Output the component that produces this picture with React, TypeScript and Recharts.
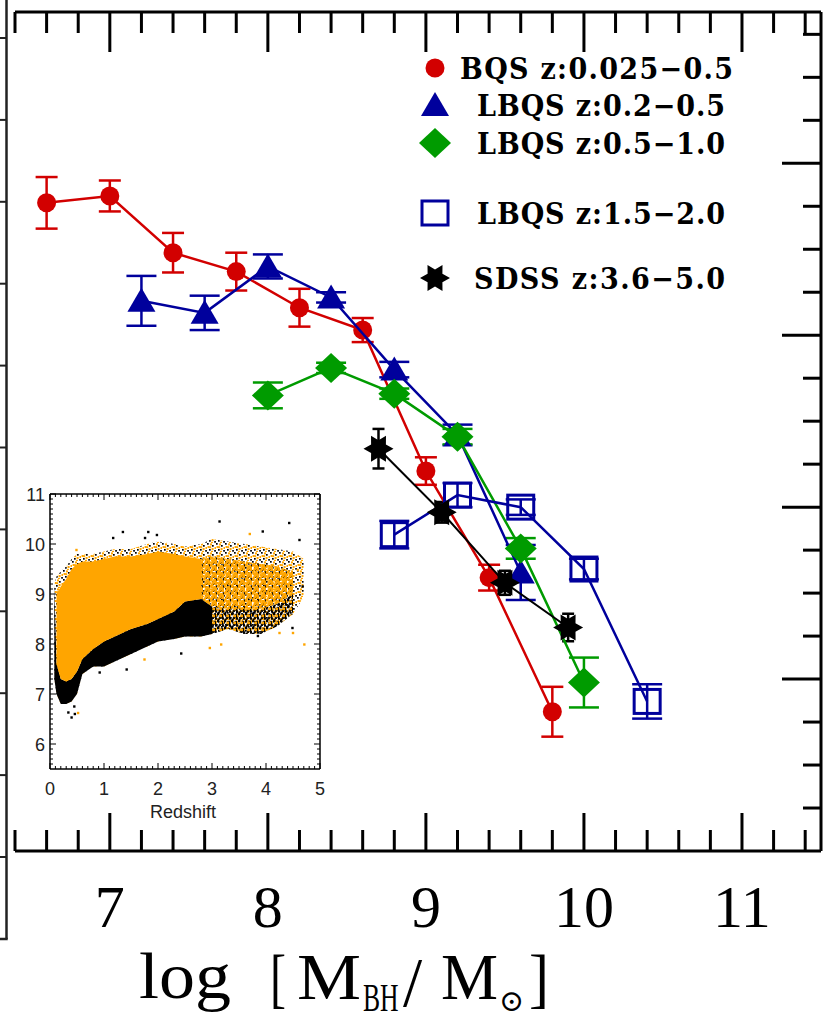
import React from 'react'
import { ComposedChart, Scatter, ErrorBar, XAxis, YAxis, Area, Legend } from 'recharts'

// ── Frame geometry (page px) ──────────────────────────────────────────────────
const W = 823
const H = 1020
const PLOT_L = 15
const PLOT_R = 821
const PLOT_T = 12
const PLOT_B = 851

const RED = '#D20000'
const BLUE = '#00009C'
const GREEN = '#009B00'
const INK = '#000000'
const ORANGE = '#FFA500'

// ── Main panel: log M_BH bin, log value, 1-sigma ─────────────────────────────
const BQS_X = [6.6, 7.0, 7.4, 7.8, 8.2, 8.6, 9.0, 9.4, 9.8]
const BQS_Y = [-6.23, -6.19, -6.52, -6.63, -6.84, -6.97, -7.79, -8.41, -9.19]
const BQS_ERR = [0.15, 0.09, 0.115, 0.11, 0.11, 0.07, 0.08, 0.075, 0.145]

const LBQS1_X = [7.2, 7.6, 8.0, 8.4, 8.8, 9.2, 9.6]
const LBQS1_Y = [-6.8, -6.87, -6.6, -6.78, -7.2, -7.58, -8.38]
const LBQS1_ERR = [0.145, 0.1, 0.07, 0.03, 0.045, 0.06, 0.16]

const LBQS2_X = [8.0, 8.4, 8.8, 9.2, 9.6, 10.0]
const LBQS2_Y = [-7.35, -7.19, -7.34, -7.59, -8.24, -9.02]
const LBQS2_ERR = [0.075, 0.03, 0.03, 0.045, 0.06, 0.145]

const LBQS3_X = [8.8, 9.2, 9.6, 10.0, 10.4]
const LBQS3_Y = [-8.16, -7.93, -8.0, -8.36, -9.13]
const LBQS3_ERR = [0.08, 0.07, 0.045, 0.06, 0.1]

const SDSS_X = [8.7, 9.1, 9.5, 9.9]
const SDSS_Y = [-7.66, -8.03, -8.44, -8.7]
const SDSS_ERR = [0.115, 0.06, 0.07, 0.08]

const LEGEND_LABELS = [
  'BQS z:0.025\u22120.5',
  'LBQS z:0.2\u22120.5',
  'LBQS z:0.5\u22121.0',
  'LBQS z:1.5\u22122.0',
  'SDSS z:3.6\u22125.0',
]

const X_LABELS = [7, 8, 9, 10, 11]
const X_TICKS = Array.from({ length: 26 }, (_, i) => Math.round((6.4 + i * 0.2) * 10) / 10)
const Y_TICKS = Array.from({ length: 19 }, (_, i) => -9.75 + i * 0.25)

// ── Inset: redshift vs log M_BH cloud, read as envelopes ─────────────────────
const INSET_Z = [0.08, 0.12, 0.2, 0.3, 0.4, 0.5, 0.6, 0.8, 1.0, 1.2, 1.5, 1.8, 2.0, 2.3, 2.5, 2.8, 3.0, 3.3, 3.6, 3.9, 4.2, 4.5, 4.7]
// whole cloud (outer edge)
const ALL_LO = [7.3, 7.0, 6.8, 6.8, 6.85, 7.0, 7.4, 7.55, 7.55, 7.65, 7.8, 7.95, 8.05, 8.1, 8.15, 8.15, 8.2, 8.3, 8.2, 8.2, 8.35, 8.6, 8.95]
const ALL_HI = [9.2, 9.35, 9.45, 9.55, 9.7, 9.8, 9.8, 9.8, 9.85, 9.9, 9.9, 10.0, 10.05, 10.0, 9.95, 10.0, 10.1, 10.05, 10.0, 9.95, 9.9, 9.85, 9.7]
// dense orange core
const CORE_LO = [null, 7.6, 7.3, 7.25, 7.3, 7.45, 7.7, 7.9, 8.05, 8.15, 8.3, 8.4, 8.5, 8.65, 8.85, 8.9, 8.75, 8.7, 8.7, 8.7, 8.8, 9.0, null]
const CORE_HI = [null, 9.0, 9.15, 9.3, 9.5, 9.6, 9.65, 9.65, 9.7, 9.75, 9.75, 9.8, 9.85, 9.8, 9.75, 9.7, 9.75, 9.7, 9.65, 9.6, 9.55, 9.45, null]
// redshifts past which the core / the black underside thin into loose dots
const CORE_SPARSE_Z = 2.8
const UNDER_SPARSE_Z = 3.0

const STRAY_BLACK_Z = [1.35, 1.17, 1.76, 1.82, 1.98, 3.14, 4.43, 0.34, 0.4, 0.46, 2.43, 1.42, 0.92, 3.85, 4.62, 3.94, 4.68, 4.49, 0.3, 0.45]
const STRAY_BLACK_M = [10.24, 10.12, 10.12, 10.24, 10.18, 10.45, 10.42, 6.63, 6.53, 6.6, 7.81, 7.49, 7.43, 8.16, 10.08, 10.25, 9.15, 8.32, 6.9, 6.75]
const STRAY_ORANGE_Z = [4.71, 2.96, 3.17, 1.75, 0.49, 4.5, 4.25, 4.37, 4.59, 0.52, 3.7]
const STRAY_ORANGE_M = [7.99, 7.92, 7.99, 7.69, 9.88, 8.22, 8.22, 9.29, 9.48, 6.62, 10.2]

const IN_X_TICKS = Array.from({ length: 51 }, (_, i) => i / 10)
const IN_Y_TICKS = Array.from({ length: 55 }, (_, i) => (56 + i) / 10)

const toRows = (xs: number[], ys: number[], es: number[]) => xs.map((x, i) => ({ x, y: ys[i], e: es[i] }))

const bqs = toRows(BQS_X, BQS_Y, BQS_ERR)
const lbqs1 = toRows(LBQS1_X, LBQS1_Y, LBQS1_ERR)
const lbqs2 = toRows(LBQS2_X, LBQS2_Y, LBQS2_ERR)
const lbqs3 = toRows(LBQS3_X, LBQS3_Y, LBQS3_ERR)
const sdss = toRows(SDSS_X, SDSS_Y, SDSS_ERR)

const insetRows = INSET_Z.map((z, i) => {
  const lo = ALL_LO[i]
  const hi = ALL_HI[i]
  const cLo = CORE_LO[i]
  const cHi = CORE_HI[i]
  return {
    z,
    all: [lo, hi],
    underDense: z <= UNDER_SPARSE_Z ? [lo, cLo ?? hi] : null,
    underSparse: z >= UNDER_SPARSE_Z && cLo != null ? [lo, cLo] : null,
    coreDense: z <= CORE_SPARSE_Z && cLo != null ? [cLo, cHi] : null,
    coreSparse: z >= CORE_SPARSE_Z && cLo != null ? [cLo, cHi] : null,
  }
})
const strayBlack = STRAY_BLACK_Z.map((z, i) => ({ z, m: STRAY_BLACK_M[i] }))
const strayOrange = STRAY_ORANGE_Z.map((z, i) => ({ z, m: STRAY_ORANGE_M[i] }))

// ── Markers ───────────────────────────────────────────────────────────────────
const circleMark = (cx: number, cy: number, c: string) => <circle cx={cx} cy={cy} r={9.5} fill={c} />
const triangleMark = (cx: number, cy: number, c: string) => (
  <path d={`M${cx},${cy - 13}L${cx + 14},${cy + 11}L${cx - 14},${cy + 11}Z`} fill={c} />
)
const diamondMark = (cx: number, cy: number, c: string) => (
  <path d={`M${cx},${cy - 15}L${cx + 16},${cy}L${cx},${cy + 15}L${cx - 16},${cy}Z`} fill={c} />
)
const squareMark = (cx: number, cy: number, c: string) => (
  <rect x={cx - 13} y={cy - 12} width={26} height={24} fill="none" stroke={c} strokeWidth={3} />
)
const starMark = (cx: number, cy: number, c: string) => {
  const pts = Array.from({ length: 12 }, (_, k) => {
    const a = (k * Math.PI) / 6
    const r = k % 2 === 0 ? 15 : 8.5
    return `${(cx + r * Math.cos(a)).toFixed(1)},${(cy + r * Math.sin(a)).toFixed(1)}`
  })
  return <polygon points={pts.join(' ')} fill={c} />
}
const MARKS = [
  (x: number, y: number) => circleMark(x, y, RED),
  (x: number, y: number) => triangleMark(x, y, BLUE),
  (x: number, y: number) => diamondMark(x, y, GREEN),
  (x: number, y: number) => squareMark(x, y, BLUE),
  (x: number, y: number) => starMark(x, y, INK),
]

// ── Main axes ticks ───────────────────────────────────────────────────────────
const isWhole = (v: number) => Math.abs(v - Math.round(v)) < 1e-6

function BottomTick({ x, payload }: any) {
  const major = isWhole(payload.value)
  return (
    <g>
      <line x1={x} x2={x} y1={PLOT_B} y2={PLOT_B - (major ? 38 : 21)} stroke={INK} strokeWidth={3} />
      {major && X_LABELS.includes(Math.round(payload.value)) && (
        <text x={x} y={927} textAnchor="middle" fontFamily="'Liberation Serif', serif" fontSize={60} fill={INK}>
          {Math.round(payload.value)}
        </text>
      )}
    </g>
  )
}

function TopTick({ x, payload }: any) {
  const major = isWhole(payload.value)
  return <line x1={x} x2={x} y1={PLOT_T} y2={PLOT_T + (major ? 40 : 21)} stroke={INK} strokeWidth={3} />
}

function RightTick({ y, payload }: any) {
  const major = isWhole(payload.value)
  return <line x1={PLOT_R} x2={PLOT_R - (major ? 39 : 18)} y1={y} y2={y} stroke={INK} strokeWidth={3} />
}

// log [M_BH / M_sun], pieces placed to match the printed title
function MassTitle() {
  const serif = "'Liberation Serif', 'DejaVu Serif', serif"
  return (
    <g fill={INK} fontFamily={serif}>
      <text x={139} y={998} fontSize={66} textLength={92} lengthAdjust="spacingAndGlyphs">log</text>
      <text x={270} y={1000} fontSize={66} textLength={16} lengthAdjust="spacingAndGlyphs">[</text>
      <text x={297} y={999} fontSize={66} textLength={64} lengthAdjust="spacingAndGlyphs">M</text>
      <text transform="translate(363 1011) scale(0.64 1)" fontSize={40}>BH</text>
      <text transform="translate(403 1006) scale(1.15 1.15)" fontSize={60}>/</text>
      <text x={441} y={999} fontSize={66} textLength={57} lengthAdjust="spacingAndGlyphs">M</text>
      <text x={499} y={1011} fontSize={30} fontFamily="'DejaVu Serif', serif">{'\u2299'}</text>
      <text x={529} y={1000} fontSize={66} textLength={20} lengthAdjust="spacingAndGlyphs">]</text>
    </g>
  )
}

// legend rows, page coords
const LEG_MARK_X = 435
const LEG_ROW_Y = [68, 105, 143, 213, 278]
const LEG_TEXT_X = [460, 477, 477, 477, 474]
const LEG_TEXT_W = [273, 248, 248, 248, 251]
const LEG_LEFT = 405
const LEG_TOP = 40

function LegendGraphic() {
  return (
    <svg width={360} height={270} style={{ display: 'block', overflow: 'visible' }}>
      {LEGEND_LABELS.map((label, i) => (
        <g key={label}>
          {MARKS[i](LEG_MARK_X - LEG_LEFT, LEG_ROW_Y[i] - LEG_TOP)}
          <text
            x={LEG_TEXT_X[i] - LEG_LEFT}
            y={LEG_ROW_Y[i] - LEG_TOP + 11}
            fontFamily="'DejaVu Serif Condensed', 'DejaVu Serif', serif"
            fontWeight="bold"
            fontSize={30}
            textLength={LEG_TEXT_W[i]}
            lengthAdjust="spacing"
            fill={INK}
          >
            {label}
          </text>
        </g>
      ))}
    </svg>
  )
}

// ── Inset geometry (inset px; box placed at page 0,480) ───────────────────────
const IN_TOP = 480
const IN_W = 340
const IN_H = 345
const IN_L = 50
const IN_R = 320
const IN_T = 14
const IN_B = 289
const SANS = "'Liberation Sans', Arial, sans-serif"

function InBottomTick({ x, payload }: any) {
  const major = isWhole(payload.value)
  return (
    <g>
      <line x1={x} x2={x} y1={IN_B} y2={IN_B - (major ? 6 : 3)} stroke={INK} strokeWidth={1} />
      {major && (
        <text x={x} y={IN_B + 26} textAnchor="middle" fontFamily={SANS} fontSize={18} fill="#222">
          {Math.round(payload.value)}
        </text>
      )}
    </g>
  )
}
function InTopTick({ x, payload }: any) {
  const major = isWhole(payload.value)
  return <line x1={x} x2={x} y1={IN_T} y2={IN_T + (major ? 6 : 3)} stroke={INK} strokeWidth={1} />
}
function InLeftTick({ y, payload }: any) {
  const major = isWhole(payload.value)
  return (
    <g>
      <line x1={IN_L} x2={IN_L + (major ? 6 : 3)} y1={y} y2={y} stroke={INK} strokeWidth={1} />
      {major && (
        <text x={IN_L - 5} y={y + 6.5} textAnchor="end" fontFamily={SANS} fontSize={18} fill="#222">
          {Math.round(payload.value)}
        </text>
      )}
    </g>
  )
}
function InRightTick({ y, payload }: any) {
  const major = isWhole(payload.value)
  return <line x1={IN_R} x2={IN_R - (major ? 6 : 3)} y1={y} y2={y} stroke={INK} strokeWidth={1} />
}
function RedshiftTitle() {
  return (
    <text x={(IN_L + IN_R) / 2 - 2} y={IN_B + 49} textAnchor="middle" fontFamily={SANS} fontSize={18} fill="#222">
      Redshift
    </text>
  )
}

const dot = (c: string) => (p: any) => <rect x={p.cx - 1.2} y={p.cy - 1.2} width={2.4} height={2.4} fill={c} />

// speckle tiles that stand in for the loose dots of the cloud
const sq = (x: number, y: number, s: number, c: string, k: string) => <rect key={k} x={x} y={y} width={s} height={s} fill={c} />
function Speckle({ id, size, black, orange, dot: d }: { id: string; size: number; black: number[][]; orange: number[][]; dot: number }) {
  return (
    <pattern id={id} width={size} height={size} patternUnits="userSpaceOnUse">
      {black.map(([x, y], i) => sq(x, y, d, '#000', `b${i}`))}
      {orange.map(([x, y], i) => sq(x, y, d + 0.3, ORANGE, `o${i}`))}
    </pattern>
  )
}

function Inset() {
  const band = (key: string, fill: string) => (
    <Area dataKey={key} type="linear" fill={fill} fillOpacity={1} stroke="none" isAnimationActive={false} />
  )
  return (
    <ComposedChart
      width={IN_W}
      height={IN_H}
      data={insetRows}
      margin={{ top: IN_T - 1, right: IN_W - IN_R - 1, bottom: 0, left: IN_L - 30 }}
      style={{ position: 'absolute', left: 0, top: IN_TOP }}
    >
      <defs>
        <Speckle
          id="speckMix"
          size={9}
          dot={1.7}
          black={[[0, 0], [5, 2], [2, 6], [7.2, 7]]}
          orange={[[3, 0.4], [7.5, 4], [0.6, 3], [4.6, 5], [4, 7.8], [2.2, 3.2]]}
        />
        <Speckle
          id="speckBlack"
          size={7}
          dot={2.3}
          black={[[0, 0], [3.6, 0.8], [1.8, 3.6], [5, 4.4], [0.4, 5.6], [4.2, 2.6]]}
          orange={[[2.4, 1.6], [6, 0.8]]}
        />
        <Speckle
          id="speckOrange"
          size={7}
          dot={2.4}
          black={[[5.6, 0.3], [6.1, 6.1], [2.5, 4.7]]}
          orange={[[0, 0], [3.4, 1.1], [1.6, 3.4], [5, 4.2], [0.6, 5.5], [4.4, 2.7], [2.4, 1.5], [3.8, 5.6]]}
        />
      </defs>
      <XAxis
        type="number"
        dataKey="z"
        domain={[0, 5]}
        ticks={IN_X_TICKS}
        interval={0}
        allowDataOverflow
        height={IN_H - IN_B}
        tickSize={0}
        tickMargin={0}
        tickLine={false}
        axisLine={{ stroke: INK, strokeWidth: 1.5 }}
        tick={<InBottomTick />}
        label={<RedshiftTitle />}
      />
      <XAxis
        xAxisId="top"
        orientation="top"
        type="number"
        dataKey="z"
        domain={[0, 5]}
        ticks={IN_X_TICKS}
        interval={0}
        allowDataOverflow
        height={1}
        tickSize={0}
        tickMargin={0}
        tickLine={false}
        axisLine={{ stroke: INK, strokeWidth: 1.5 }}
        tick={<InTopTick />}
      />
      <YAxis
        type="number"
        domain={[5.5, 11]}
        ticks={IN_Y_TICKS}
        interval={0}
        allowDataOverflow
        width={30}
        tickSize={0}
        tickMargin={0}
        tickLine={false}
        axisLine={{ stroke: INK, strokeWidth: 1.5 }}
        tick={<InLeftTick />}
      />
      <YAxis
        yAxisId="right"
        orientation="right"
        type="number"
        domain={[5.5, 11]}
        ticks={IN_Y_TICKS}
        interval={0}
        allowDataOverflow
        width={1}
        tickSize={0}
        tickMargin={0}
        tickLine={false}
        axisLine={{ stroke: INK, strokeWidth: 1.5 }}
        tick={<InRightTick />}
      />
      {band('all', 'url(#speckMix)')}
      {band('underDense', '#000')}
      {band('underSparse', 'url(#speckBlack)')}
      {band('coreDense', ORANGE)}
      {band('coreSparse', 'url(#speckOrange)')}
      <Scatter data={strayBlack} dataKey="m" shape={dot('#000')} isAnimationActive={false} />
      <Scatter data={strayOrange} dataKey="m" shape={dot(ORANGE)} isAnimationActive={false} />
    </ComposedChart>
  )
}

// neighbouring panel edge visible at the far left of the figure
const EDGE_TICKS = Array.from({ length: 11 }, (_, i) => 38 + i * 81.9)
function NeighbourEdge() {
  return (
    <svg width={12} height={950} style={{ position: 'absolute', left: 0, top: 0 }}>
      <line x1={6.5} x2={6.5} y1={0} y2={939} stroke="#222" strokeWidth={2.5} />
      <line x1={0} x2={7.7} y1={939} y2={939} stroke="#222" strokeWidth={2.5} />
      {EDGE_TICKS.map((y) => (
        <line key={y} x1={0} x2={6.5} y1={y} y2={y} stroke="#222" strokeWidth={2} />
      ))}
    </svg>
  )
}

export default function App() {
  const series = [
    { data: bqs, color: RED, mark: MARKS[0], cap: 11, lw: 2.5 },
    { data: lbqs1, color: BLUE, mark: MARKS[1], cap: 15, lw: 2.5 },
    { data: lbqs2, color: GREEN, mark: MARKS[2], cap: 15, lw: 2.5 },
    { data: lbqs3, color: BLUE, mark: MARKS[3], cap: 15, lw: 2.5 },
    { data: sdss, color: INK, mark: MARKS[4], cap: 6, lw: 2 },
  ]
  return (
    <div style={{ position: 'absolute', left: 0, top: 0, width: W, height: H, background: '#fff', overflow: 'hidden' }}>
      <NeighbourEdge />
      <ComposedChart
        width={W}
        height={H}
        margin={{ top: PLOT_T - 1, right: W - PLOT_R - 1, bottom: 0, left: PLOT_L }}
        style={{ position: 'absolute', left: 0, top: 0 }}
      >
        <XAxis
          type="number"
          dataKey="x"
          domain={[6.4, 11.5]}
          ticks={X_TICKS}
          interval={0}
          allowDataOverflow
          height={H - PLOT_B}
          tickSize={0}
          tickMargin={0}
          tickLine={false}
          axisLine={{ stroke: INK, strokeWidth: 3 }}
          tick={<BottomTick />}
          label={<MassTitle />}
        />
        <XAxis
          xAxisId="top"
          orientation="top"
          type="number"
          dataKey="x"
          domain={[6.4, 11.5]}
          ticks={X_TICKS}
          interval={0}
          allowDataOverflow
          height={1}
          tickSize={0}
          tickMargin={0}
          tickLine={false}
          axisLine={{ stroke: INK, strokeWidth: 3 }}
          tick={<TopTick />}
        />
        <YAxis
          orientation="right"
          type="number"
          dataKey="y"
          domain={[-10, -5.12]}
          ticks={Y_TICKS}
          interval={0}
          allowDataOverflow
          width={1}
          tickSize={0}
          tickMargin={0}
          tickLine={false}
          axisLine={{ stroke: INK, strokeWidth: 3 }}
          tick={<RightTick />}
        />
        {series.map((s, i) => (
          <Scatter
            key={i}
            data={s.data}
            dataKey="y"
            fill={s.color}
            line={{ stroke: s.color, strokeWidth: s.lw }}
            lineJointType="linear"
            shape={(p: any) => s.mark(p.cx, p.cy)}
            isAnimationActive={false}
          >
            <ErrorBar dataKey="e" direction="y" width={s.cap} stroke={s.color} strokeWidth={2.5} />
          </Scatter>
        ))}
        <Legend
          layout="vertical"
          align="center"
          verticalAlign="middle"
          content={() => <LegendGraphic />}
          wrapperStyle={{ position: 'absolute', left: LEG_LEFT, top: LEG_TOP, width: 360, height: 270 }}
        />
      </ComposedChart>
      <Inset />
    </div>
  )
}
